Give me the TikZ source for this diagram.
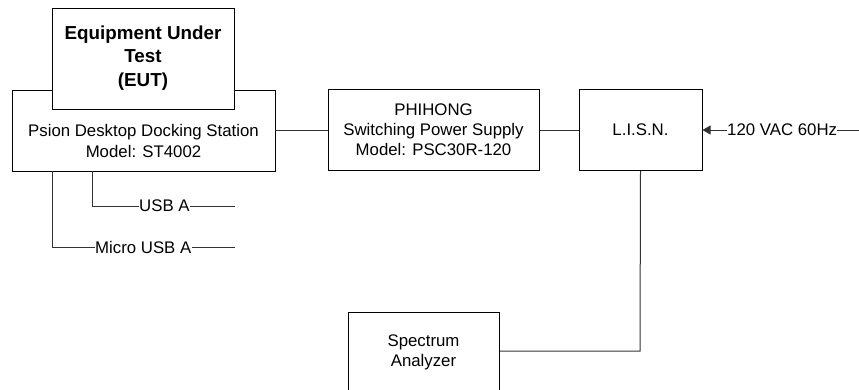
\documentclass[tikz,border=0pt]{standalone}
\usepackage{fontspec}
\setmainfont{Liberation Sans}
\usetikzlibrary{arrows.meta}
\begin{document}
\begin{tikzpicture}[x=1pt,y=-1pt,
  boxx/.style={draw=black,line width=1pt,fill=white},
  wire/.style={draw=black!80,line width=1pt},
  lbl/.style={font=\fontsize{16.8}{20}\selectfont,align=center,inner sep=0pt},
  blbl/.style={font=\fontsize{18.8}{23.5}\selectfont\bfseries,align=center,inner sep=0pt}]
\useasboundingbox (0,0) rectangle (859,389);
\begin{scope}
\clip (0,0) rectangle (859,389);
% boxes
\path[boxx] (12,90) rectangle (275,171);
\coordinate (dockR) at (275,130);
\path[boxx] (52,8) rectangle (234,109);
\node[blbl] (eut) at (143,58) {Equipment Under\\Test\\(EUT)};
\node[lbl,font=\fontsize{16.8}{21.7}\selectfont] (dock) at (143.5,141) {Psion Desktop Docking Station\\Model: ST4002};
\node[boxx,minimum width=211pt,minimum height=81pt,inner sep=0pt] (psu) at (433.5,130) {};
\node[lbl] (psut) at (433.5,130) {PHIHONG\\Switching Power Supply\\Model: PSC30R-120};
\node[boxx,minimum width=123pt,minimum height=81pt,inner sep=0pt] (lisn) at (640.5,130) {};
\node[lbl] (lisnt) at (640.5,130) {L.I.S.N.};
\node[boxx,minimum width=151pt,minimum height=120pt,inner sep=0pt,anchor=north west] (sa) at (348,312) {};
\node[lbl] (sat) at (423.5,352) {Spectrum\\Analyzer};
% wires
\draw[wire] (dockR) -- (psu.west);
\draw[wire] (psu.east) -- (lisn.west);
\node[lbl,anchor=west] (ac) at (727,130) {120 VAC 60Hz};
\coordinate (acend) at (859,130);
\draw[wire] (ac.east) -- (acend);
\draw[wire,-{Triangle[length=8pt,width=9pt]}] (ac.west) -- (lisn.east);
\coordinate (corner) at (640,351);
\draw[wire] (lisn.south) -- (corner) -- (sa.east |- corner);
% USB lines
\coordinate (u1) at (92,171);
\coordinate (u1c) at (92,206);
\node[lbl,anchor=west] (usb) at (139,206) {USB A};
\coordinate (u1e) at (235,206);
\draw[wire] (u1) -- (u1c) -- (usb.west);
\draw[wire] (usb.east) -- (u1e);
\coordinate (u2) at (52,171);
\coordinate (u2c) at (52,247);
\node[lbl,anchor=west] (musb) at (95,247) {Micro USB A};
\coordinate (u2e) at (235,247);
\draw[wire] (u2) -- (u2c) -- (musb.west);
\draw[wire] (musb.east) -- (u2e);
\end{scope}
\end{tikzpicture}
\end{document}
